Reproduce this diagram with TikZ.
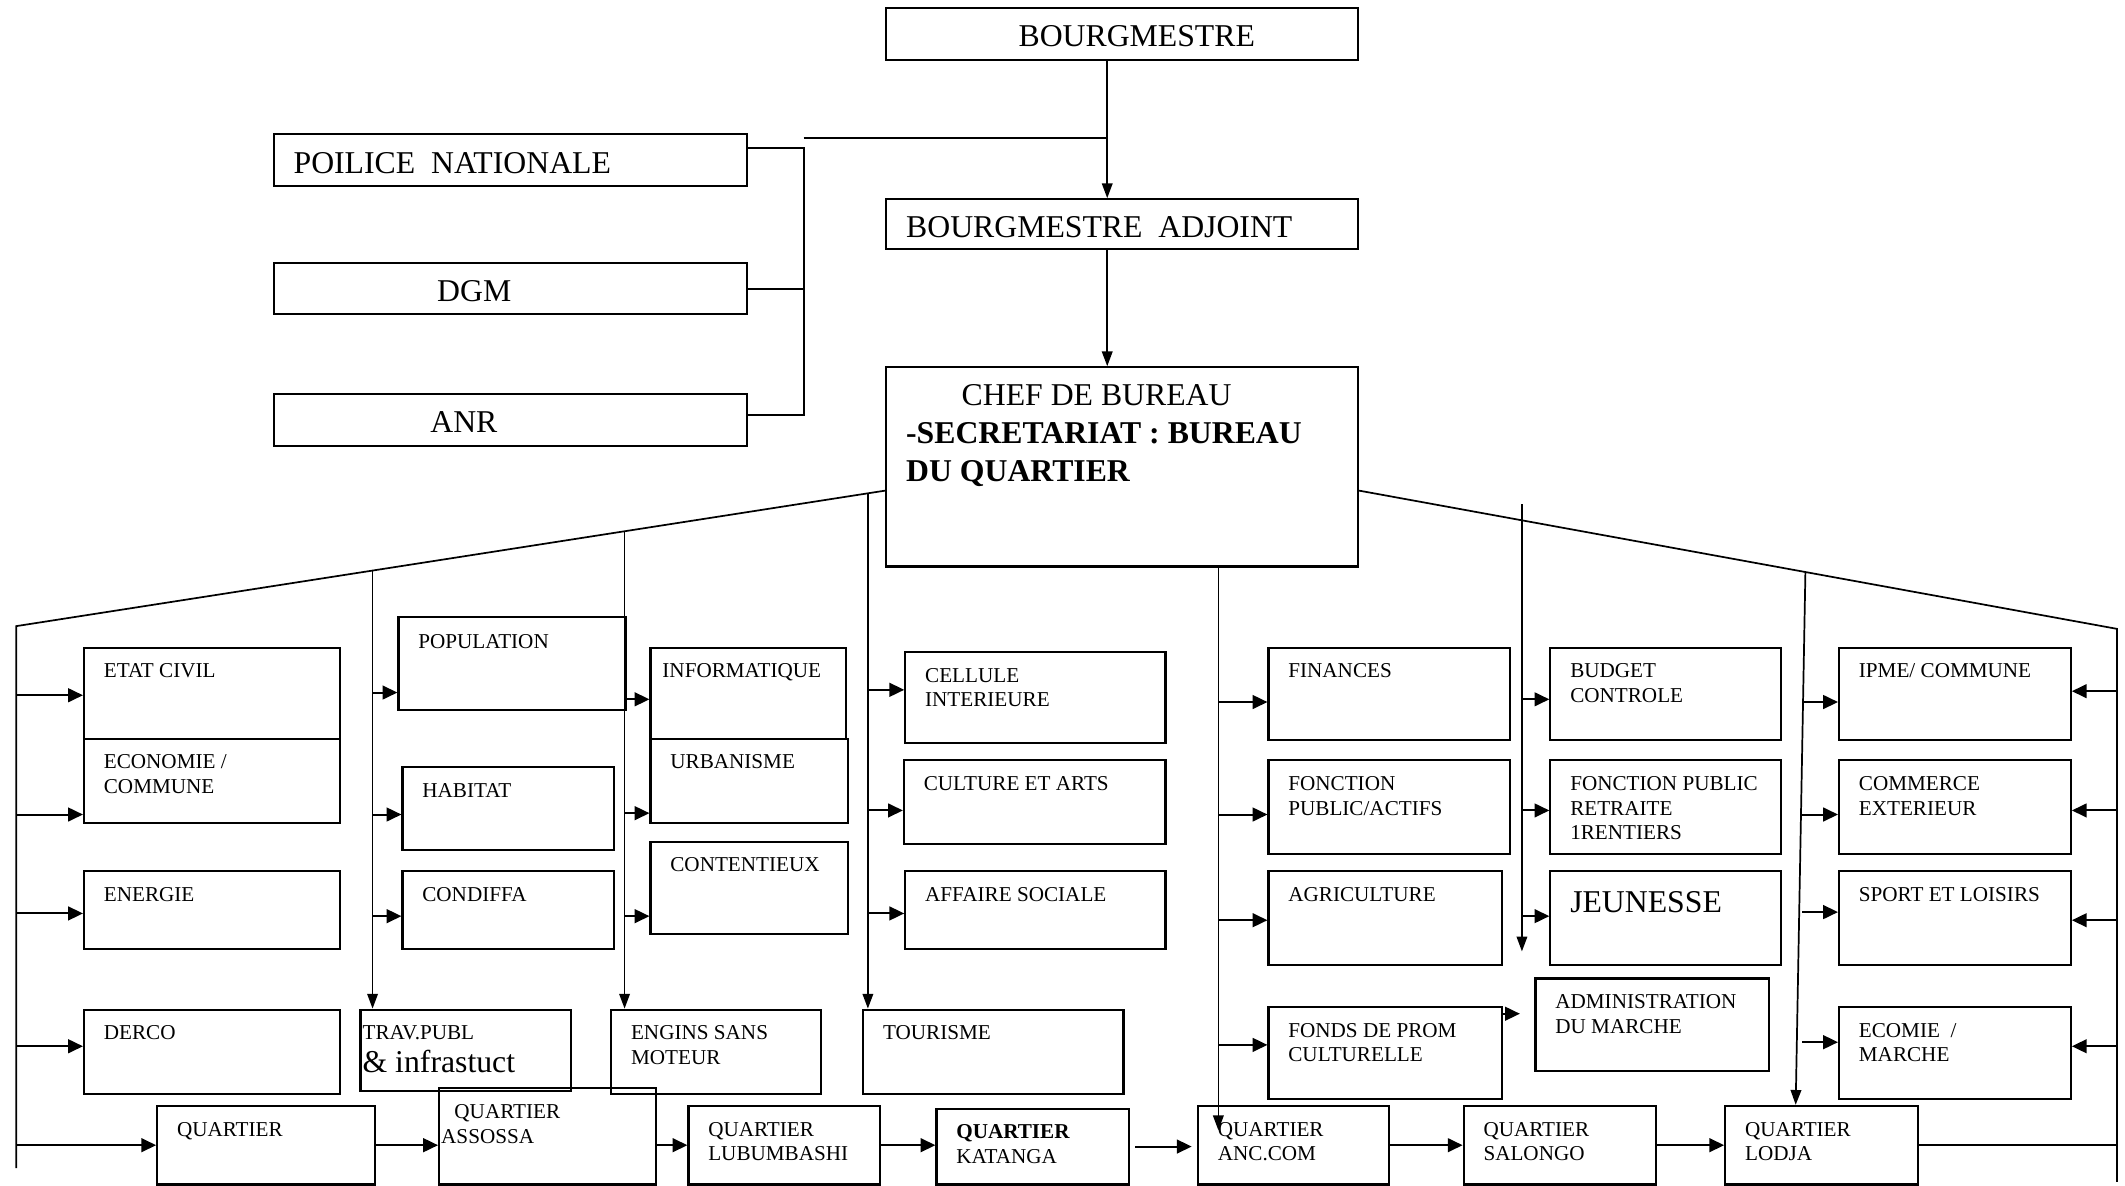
\documentclass[tikz,border=0pt]{standalone}
\usepackage{fontspec}
\setmainfont{Liberation Serif}
\usetikzlibrary{arrows.meta,calc,fit}
\tikzset{
  cell/.style ={draw, line width=0.8pt, inner sep=0pt},
  txt/.style  ={anchor=north west, xshift=7.7pt, yshift=-6.3pt, inner sep=0pt, align=left,
                font=\fontsize{8}{9.3}\selectfont},
  big/.style  ={txt, yshift=-0.5pt, font=\fontsize{12}{14.3}\selectfont},
  ln/.style   ={line width=0.65pt},
  feed/.style ={line width=0.75pt, -{Triangle[length=5.6pt,width=5.2pt]}},
  drop/.style ={line width=0.65pt, -{Triangle[length=5.6pt,width=4pt]}},
}

\begin{document}
\begin{tikzpicture}[x=0.018cm,y=-0.018cm]
  \useasboundingbox (0,0) rectangle (1568,875);
  % top of the chart
  \node[cell, fit={(654,6)(1002,44)},   label={[big,xshift=42.5pt]north west:BOURGMESTRE}] (bgm) {};
  \node[cell, fit={(654,147)(1002,184)}, label={[big]north west:BOURGMESTRE\ \ ADJOINT}] (adj) {};
  \node[cell, fit={(202,99)(551,137)},  label={[big,yshift=-0.5pt]north west:POILICE\ \ NATIONALE}] (pol) {};
  \node[cell, fit={(202,194)(551,232)}, label={[big,xshift=54.3pt]north west:DGM}] (dgm) {};
  \node[cell, fit={(202,291)(551,329)}, label={[big,xshift=51.7pt]north west:ANR}] (anr) {};
  \node[cell, fit={(654,271)(1002,418)},
        label={[big]north west:{\hspace{21pt}CHEF DE BUREAU\\\textbf{-SECRETARIAT : BUREAU}\\\textbf{DU QUARTIER}}}] (chef) {};
  \coordinate (hj)  at (817,102);
  \coordinate (brt) at (593,109);
  \coordinate (brb) at (593,306);
  \draw[drop] (bgm.south -| hj) -- (adj.north -| hj);
  \draw[drop] (adj.south -| hj) -- (chef.north -| hj);
  \draw[ln] (hj -| brt) -- (hj);
  \draw[ln] (pol.east |- brt) -- (brt) -- (brb) -- (anr.east |- brb);
  \draw[ln] (dgm.east) -- (dgm.east -| brt);

  % services, left part
  \node[cell, fit={(62,478)(251,545)},  label={[txt]north west:ETAT CIVIL}] (etat) {};
  \node[cell, fit={(62,545)(251,607)},  label={[txt]north west:ECONOMIE /\\COMMUNE}] (eco) {};
  \node[cell, fit={(62,643)(251,700)},  label={[txt]north west:ENERGIE}] (ener) {};
  \node[cell, fit={(62,745)(251,807)},  label={[txt]north west:DERCO}] (derco) {};
  \node[cell, fit={(294,455)(462,524)}, label={[txt,yshift=-0.5pt]north west:POPULATION}] (pop) {};
  \node[cell, fit={(297,566)(453,627)}, label={[txt]north west:HABITAT}] (hab) {};
  \node[cell, fit={(297,643)(453,700)}, label={[txt]north west:CONDIFFA}] (cond) {};
  \node[cell, fit={(266,745)(421,805)},
        label={[txt,xshift=-6.7pt]north west:{TRAV.PUBL\\[3pt]{\fontsize{12}{14}\selectfont\&~infrastuct}}}] (trav) {};
  \node[cell, fit={(480,478)(624,545)}, label={[txt,xshift=-3pt]north west:INFORMATIQUE}] (info) {};
  \node[cell, fit={(480,545)(626,607)}, label={[txt]north west:URBANISME}] (urba) {};
  \node[cell, fit={(480,621)(626,689)}, label={[txt]north west:CONTENTIEUX}] (cont) {};
  \node[cell, fit={(451,745)(606,807)}, label={[txt]north west:ENGINS SANS\\MOTEUR}] (engins) {};
  \node[cell, fit={(668,481)(860,548)}, label={[txt]north west:CELLULE\\INTERIEURE}] (celi) {};
  \node[cell, fit={(667,561)(860,623)}, label={[txt]north west:CULTURE ET ARTS}] (cult) {};
  \node[cell, fit={(668,643)(860,700)}, label={[txt]north west:AFFAIRE SOCIALE}] (aff) {};
  \node[cell, fit={(637,745)(829,807)}, label={[txt]north west:TOURISME}] (tour) {};

  % services, right part
  \node[cell, fit={(936,478)(1114,546)},  label={[txt]north west:FINANCES}] (fin) {};
  \node[cell, fit={(936,561)(1114,630)},  label={[txt]north west:FONCTION\\PUBLIC/ACTIFS}] (fpa) {};
  \node[cell, fit={(936,643)(1108,712)},  label={[txt]north west:AGRICULTURE}] (agri) {};
  \node[cell, fit={(936,743)(1108,811)},  label={[txt]north west:FONDS DE PROM\\CULTURELLE}] (fonds) {};
  \node[cell, fit={(1144,478)(1314,546)}, label={[txt]north west:BUDGET\\CONTROLE}] (budg) {};
  \node[cell, fit={(1144,561)(1314,630)}, label={[txt]north west:FONCTION PUBLIC\\RETRAITE\\1RENTIERS}] (fpr) {};
  \node[cell, fit={(1144,643)(1314,712)}, label={[big,yshift=-1pt]north west:JEUNESSE}] (jeun) {};
  \node[cell, fit={(1133,722)(1305,790)}, label={[txt]north west:ADMINISTRATION\\DU MARCHE}] (admin) {};
  \node[cell, fit={(1357,478)(1528,546)}, label={[txt]north west:IPME/ COMMUNE}] (ipme) {};
  \node[cell, fit={(1357,561)(1528,630)}, label={[txt]north west:COMMERCE\\EXTERIEUR}] (comm) {};
  \node[cell, fit={(1357,643)(1528,712)}, label={[txt]north west:SPORT ET LOISIRS}] (sport) {};
  \node[cell, fit={(1357,743)(1528,811)}, label={[txt]north west:ECOMIE\ \ /\\MARCHE}] (ecom) {};

  % quartiers
  \node[cell, fit={(116,816)(277,874)},  label={[txt]north west:QUARTIER}] (q1) {};
  \node[cell, fit={(324,803)(484,874)},  label={[txt,xshift=-6.7pt]north west:{\hspace{5pt}QUARTIER\\ASSOSSA}}] (q2) {};
  \node[cell, fit={(508,816)(649,874)},  label={[txt]north west:QUARTIER\\LUBUMBASHI}] (q3) {};
  \node[cell, fit={(691,818)(833,874)},  label={[txt]north west:\textbf{QUARTIER}\\KATANGA}] (q4) {};
  \node[cell, fit={(884,816)(1025,874)}, label={[txt]north west:QUARTIER\\ANC.COM}] (q5) {};
  \node[cell, fit={(1080,816)(1222,874)},label={[txt]north west:QUARTIER\\SALONGO}] (q6) {};
  \node[cell, fit={(1273,816)(1415,874)},label={[txt]north west:QUARTIER\\LODJA}] (q7) {};

  % fan-out from the chef de bureau
  \coordinate (cw) at (chef.west |- 0,362);
  \coordinate (ce) at (chef.east |- 0,362);
  \coordinate (lt) at (12,462);
  \coordinate (lb) at (12,862);
  \coordinate (rt) at (1562,464);
  \coordinate (rb) at (1562,872);
  \draw[ln] (cw) -- (lt) -- (lb);
  \draw[ln] (ce) -- (rt) -- (rb);
  \coordinate (v1) at ($(lt)!0.41!(cw)$);
  \coordinate (v2) at ($(lt)!0.70!(cw)$);
  \coordinate (v3) at ($(lt)!0.98!(cw)$);
  \coordinate (v4) at (chef.south -| 899,0);
  \coordinate (v5) at (1123,372);
  \coordinate (v6) at ($(ce)!0.589!(rt)$);
  \coordinate (v4end) at (899,834);
  \coordinate (v5end) at (1123,702);
  \draw[drop] (v1) -- (v1 |- trav.north);
  \draw[drop] (v2) -- (v2 |- engins.north);
  \draw[drop] (v3) -- (v3 |- tour.north);
  \draw[drop] (v4) -- (v4end);
  \draw[drop] (v5) -- (v5end);
  \draw[drop] (v6) -- (q7.north -| 1325,0);

  \foreach \n/\y in {etat/513,eco/601,ener/674,derco/772,q1/845}
    \draw[feed] (lt |- 0,\y) -- (\n.west |- 0,\y);
  \foreach \n/\y in {pop/511,hab/601,cond/676}
    \draw[feed] (v1 |- 0,\y) -- (\n.west |- 0,\y);
  \foreach \n/\y in {info/516,urba/600,cont/676}
    \draw[feed] (v2 |- 0,\y) -- (\n.west |- 0,\y);
  \foreach \n/\y in {celi/509,cult/598,aff/674}
    \draw[feed] (v3 |- 0,\y) -- (\n.west |- 0,\y);
  \foreach \n/\y in {fin/518,fpa/601,agri/679,fonds/771}
    \draw[feed] (v4 |- 0,\y) -- (\n.west |- 0,\y);
  \foreach \n/\y in {budg/516,fpr/598,jeun/676}
    \draw[feed] (v5 |- 0,\y) -- (\n.west |- 0,\y);
  \foreach \n/\y in {ipme/518,comm/601,sport/673,ecom/769}
    \draw[feed] (1330,\y) -- (\n.west |- 0,\y);
  \foreach \n/\y in {ipme/510,comm/598,sport/679,ecom/772}
    \draw[feed] (rt |- 0,\y) -- (\n.east |- 0,\y);
  \draw[feed, shorten >=5.5pt] (fonds.east |- 0,748) -- (admin.west |- 0,748);

  % chain of quartiers
  \draw[feed] (q1.east) -- (q1.east -| q2.west);
  \draw[feed] (q2.east |- q3.west) -- (q3.west);
  \draw[feed] (q3.east) -- (q3.east -| q4.west);
  \draw[feed] ([xshift=2pt]q4.east) -- ([xshift=-2pt]q5.west |- q4.east);
  \draw[feed] (q5.east) -- (q5.east -| q6.west);
  \draw[feed] (q6.east) -- (q6.east -| q7.west);
  \draw[ln] (q7.east) -- (q7.east -| rt);
\end{tikzpicture}
\end{document}
